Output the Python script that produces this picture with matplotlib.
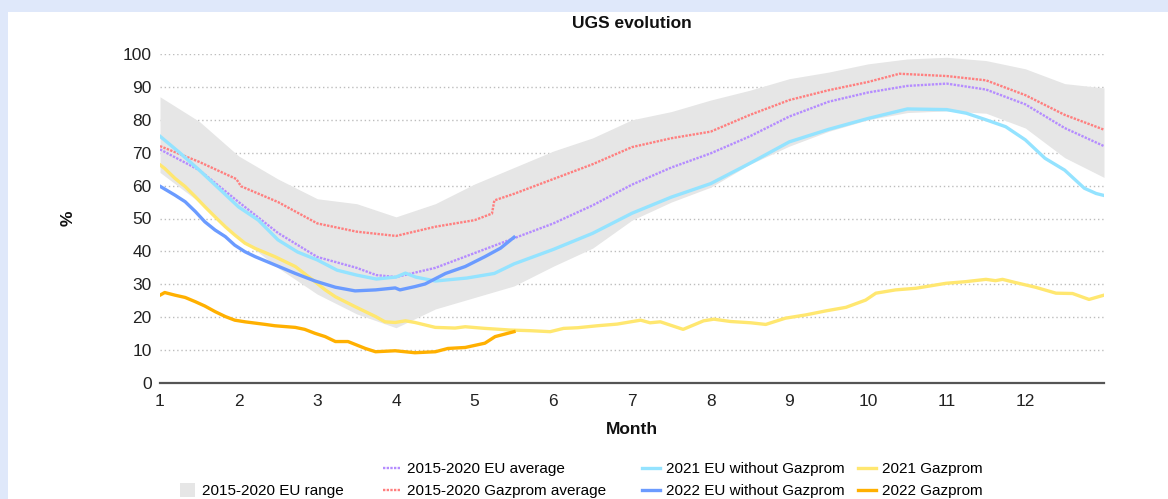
import matplotlib
matplotlib.use("Agg")
import matplotlib.pyplot as plt
from matplotlib.lines import Line2D
from matplotlib.patches import Patch, Rectangle

plt.rcParams['font.family'] = ['Liberation Sans', 'DejaVu Sans']

# 2015-2020 EU range (grey band), read on a half-month grid
band_months = [1, 1.5, 2, 2.5, 3, 3.5, 4, 4.5, 5, 5.5, 6, 6.5, 7,
               7.5, 8, 8.5, 9, 9.5, 10, 10.5, 11, 11.5, 12, 12.5, 13]
band_upper = [87, 79.5, 69, 62, 56, 54.5, 50.5, 54.5, 60.5, 65.5, 70.5, 74.5, 80,
              82.5, 86, 89, 92.5, 94.5, 97, 98.5, 99, 98, 95.5, 91, 89.7]
band_lower = [64, 55, 44.5, 35, 27, 21, 16.8, 22.5, 26, 29.5, 35.5, 41, 49.5,
              55, 59.5, 66.5, 72, 76.5, 80, 82.2, 82.7, 82, 77.5, 68.5, 62.5]

# 2015-2020 EU average
eu_avg_months = [1, 1.5, 2, 2.5, 3, 3.5, 3.75, 4, 4.5, 5, 5.5, 6, 6.5, 7,
                 7.5, 8, 8.5, 9, 9.5, 10, 10.5, 11, 11.5, 12, 12.5, 13]
eu_avg = [71, 64.7, 55, 45.6, 38.3, 35, 32.8, 32.2, 35, 39.5, 44, 48.5, 54, 60.3,
          65.5, 69.8, 75, 81, 85.5, 88.3, 90.3, 91, 89.2, 84.7, 77.5, 72]

# 2015-2020 Gazprom average
gaz_avg_months = [1, 1.5, 1.97, 2.03, 2.5, 3, 3.5, 4, 4.5, 5, 5.22, 5.25, 5.5, 6,
                  6.5, 7, 7.5, 8, 8.5, 9, 9.5, 10, 10.4, 11, 11.5, 12, 12.5, 13]
gaz_avg = [72, 67.2, 62, 59.8, 55, 48.5, 46, 44.7, 47.5, 49.5, 51.5, 55.5, 57.5, 62,
           66.5, 71.7, 74.4, 76.4, 81.5, 86, 89, 91.5, 94, 93.3, 92, 87.5, 81.5, 77]

# 2021 EU without Gazprom
eu21_months = [1, 1.25, 1.5, 2, 2.25, 2.5, 2.75, 3, 3.25, 3.5, 3.75, 4, 4.12, 4.25,
               4.5, 4.9, 5.25, 5.5, 6, 6.5, 7, 7.5, 8, 8.5, 9, 9.5, 10, 10.5, 11,
               11.25, 11.5, 11.75, 12, 12.25, 12.5, 12.75, 12.9, 13]
eu21 = [75, 70, 64.7, 53.5, 49.5, 43.5, 39.8, 37.4, 34.3, 32.8, 31.6, 32.2, 33.4, 32.2,
        31, 31.9, 33.3, 36.2, 40.6, 45.5, 51.6, 56.5, 60.6, 66.8, 73.3, 77.1, 80.4, 83.3, 83.1,
        82, 80, 77.9, 73.9, 68.3, 64.7, 59.2, 57.6, 57]

# 2022 EU without Gazprom
eu22_months = [1.0, 1.19, 1.32, 1.45, 1.57, 1.70, 1.83, 1.95, 2.08, 2.21, 2.46, 2.72,
               2.97, 3.23, 3.48, 3.74, 3.99, 4.05, 4.24, 4.37, 4.63, 4.88, 5.13, 5.33, 5.5]
eu22 = [59.8, 57.1, 55.1, 52.1, 49, 46.5, 44.5, 41.9, 39.9, 38.4, 35.9, 33.3,
        31, 29.1, 28, 28.3, 28.9, 28.3, 29.3, 30.1, 33.3, 35.4, 38.4, 41, 44.3]

# 2021 Gazprom
gaz21_months = [1.0, 1.06, 1.19, 1.32, 1.45, 1.57, 1.70, 1.83, 1.95, 2.08, 2.21, 2.46,
                2.72, 2.97, 3.10, 3.23, 3.48, 3.74, 3.86, 3.99, 4.12, 4.24, 4.50, 4.75,
                4.88, 5.13, 5.45, 5.71, 5.96, 6.13, 6.31, 6.56, 6.81, 7.11, 7.23, 7.36,
                7.65, 7.91, 8.04, 8.25, 8.51, 8.70, 8.95, 9.21, 9.46, 9.72, 9.97, 10.10,
                10.35, 10.61, 10.99, 11.24, 11.50, 11.62, 11.71, 11.88, 12.13, 12.39,
                12.60, 12.81, 13.0]
gaz21 = [66.3, 65.2, 62.2, 59.7, 56.6, 53.6, 50.5, 47.5, 45, 42.5, 40.9, 38.4,
         35.4, 30.8, 28.3, 26.2, 23.2, 20.2, 18.6, 18.4, 18.9, 18.4, 16.9, 16.7,
         17.1, 16.6, 16.1, 15.9, 15.6, 16.6, 16.8, 17.4, 17.9, 19.1, 18.3, 18.6,
         16.3, 18.9, 19.4, 18.7, 18.3, 17.8, 19.7, 20.7, 21.9, 23, 25.2, 27.3,
         28.3, 28.8, 30.3, 30.8, 31.5, 31.1, 31.5, 30.5, 29.1, 27.3,
         27.2, 25.4, 26.7]

# 2022 Gazprom
gaz22_months = [1.0, 1.06, 1.19, 1.32, 1.45, 1.57, 1.70, 1.83, 1.95, 2.08, 2.34, 2.46,
                2.72, 2.84, 2.97, 3.10, 3.23, 3.39, 3.61, 3.74, 3.99, 4.24, 4.50, 4.66,
                4.88, 5.13, 5.26, 5.5]
gaz22 = [26.7, 27.5, 26.7, 26, 24.7, 23.4, 21.7, 20.2, 19.1, 18.6, 17.8, 17.4,
         16.9, 16.3, 15.1, 14.1, 12.6, 12.6, 10.5, 9.5, 9.8, 9.2, 9.5, 10.5,
         10.8, 12.1, 14.1, 15.6]

month_ticks = list(range(1, 13))
y_ticks = list(range(0, 101, 10))

c_band = '#e6e6e6'
c_eu_avg = '#b58cff'
c_gaz_avg = '#ff7f7f'
c_eu21 = '#94e3ff'
c_eu22 = '#6b9bff'
c_gaz21 = '#ffe770'
c_gaz22 = '#ffb000'

fig = plt.figure(figsize=(11.68, 4.99), dpi=100, facecolor='#dfe8fa')
# white panel inside the light blue frame
fig.add_artist(Rectangle((8 / 1168, 0), 1, 1 - 12 / 499, transform=fig.transFigure,
                         facecolor='white', edgecolor='none', zorder=0))

ax = fig.add_axes([160 / 1168, 1 - 383 / 499, (1104 - 160) / 1168, (383 - 54) / 499])
ax.set_facecolor('none')

ax.fill_between(band_months, band_lower, band_upper, color=c_band, linewidth=0, zorder=1)

dots = (0, (1, 0.55))
ax.plot(eu_avg_months, eu_avg, color=c_eu_avg, lw=1.7, ls=dots, zorder=3)
ax.plot(gaz_avg_months, gaz_avg, color=c_gaz_avg, lw=1.7, ls=dots, zorder=3)
ax.plot(eu21_months, eu21, color=c_eu21, lw=2.4, zorder=4)
ax.plot(gaz21_months, gaz21, color=c_gaz21, lw=2.4, zorder=4)
ax.plot(eu22_months, eu22, color=c_eu22, lw=2.4, zorder=5)
ax.plot(gaz22_months, gaz22, color=c_gaz22, lw=2.4, zorder=5)

ax.set_xlim(1, 13)
ax.set_ylim(0, 100)
ax.set_xticks(month_ticks)
ax.set_yticks(y_ticks)
ax.tick_params(length=0, labelsize=12.5, colors='#222222')
ax.tick_params(axis='y', pad=6)
ax.tick_params(axis='x', pad=8)
ax.grid(axis='y', color='#bdbdbd', lw=1, ls=(0, (1, 2)), zorder=0)
for s in ['left', 'right', 'top']:
    ax.spines[s].set_visible(False)
ax.spines['bottom'].set_color('#555555')
ax.spines['bottom'].set_linewidth(1.6)
ax.set_axisbelow(True)

fig.text(0.541, 1 - 24 / 499, 'UGS evolution', ha='center', va='center',
         fontsize=12.5, fontweight='bold', color='#111111')
fig.text(68 / 1168, 1 - 218 / 499, '%', ha='center', va='center', rotation=90,
         fontsize=12.5, fontweight='bold', color='#111111')
fig.text(0.541, 1 - 430 / 499, 'Month', ha='center', va='center',
         fontsize=12.5, fontweight='bold', color='#111111')

# legend, built column by column
leg_kw = dict(frameon=False, loc='upper left', borderpad=0, borderaxespad=0,
              fontsize=11, handlelength=1.15, handletextpad=0.45, labelspacing=0.52)

col1 = [Patch(facecolor=c_band, edgecolor='none')]
col2 = [Line2D([], [], color=c_eu_avg, lw=1.7, ls=dots),
        Line2D([], [], color=c_gaz_avg, lw=1.7, ls=dots)]
col3 = [Line2D([], [], color=c_eu21, lw=2.4), Line2D([], [], color=c_eu22, lw=2.4)]
col4 = [Line2D([], [], color=c_gaz21, lw=2.4), Line2D([], [], color=c_gaz22, lw=2.4)]

row1_top = 1 - 462 / 499
row2_top = 1 - 483 / 499
fig.legend(col1, ['2015-2020 EU range'], bbox_to_anchor=(180 / 1168, row2_top),
           **{**leg_kw, 'handlelength': 1.0, 'handleheight': 1.0})
fig.legend(col2, ['2015-2020 EU average', '2015-2020 Gazprom average'],
           bbox_to_anchor=(383 / 1168, row1_top), **leg_kw)
fig.legend(col3, ['2021 EU without Gazprom', '2022 EU without Gazprom'],
           bbox_to_anchor=(642 / 1168, row1_top), **leg_kw)
fig.legend(col4, ['2021 Gazprom', '2022 Gazprom'],
           bbox_to_anchor=(858 / 1168, row1_top), **leg_kw)

fig.savefig('out.png', dpi=100, facecolor=fig.get_facecolor())
